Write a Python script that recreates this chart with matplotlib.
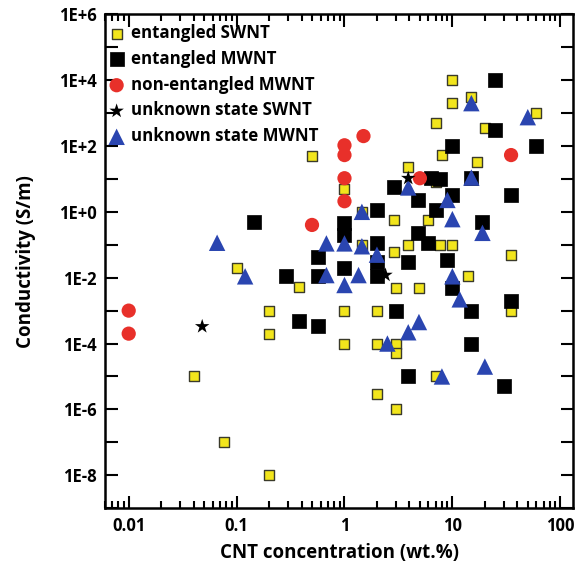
import numpy as np
import matplotlib
matplotlib.use("Agg")
import matplotlib.pyplot as plt
from matplotlib.ticker import FixedLocator, LogLocator, NullFormatter, FuncFormatter

# entangled SWNT (yellow squares)
swnt_ent_x = [0.04, 0.077, 0.2, 0.1, 0.2, 0.2, 0.38, 0.5, 1, 1, 1, 1.45, 1.45, 2, 2, 2,
              2.9, 2.9, 3, 3, 3, 3, 3.9, 3.9, 4.9, 5.9, 7, 7, 7, 7.6, 8, 10, 10, 10,
              14, 15, 17, 20, 35, 35, 60]
swnt_ent_y = [1e-5, 1e-7, 1e-8, 0.02, 1e-3, 2e-4, 0.0054, 50, 5, 1e-3, 1e-4, 1, 0.1, 1e-3, 1e-4, 3e-6,
              0.57, 0.06, 0.005, 1e-4, 5e-5, 1e-6, 23, 0.1, 0.005, 0.57, 500, 8, 1e-5, 0.1, 53, 1e4, 2e3, 0.1,
              0.011, 3e3, 33, 350, 0.05, 0.001, 1000]

# entangled MWNT (black squares)
mwnt_ent_x = [0.145, 0.29, 0.38, 0.57, 0.57, 0.57, 1, 1, 1, 2, 2, 2, 2, 2.9, 3, 3.9, 3.9,
              4.8, 4.8, 5.9, 6.4, 7, 7.6, 9, 10, 10, 10, 15, 15, 15, 19, 25, 25, 30, 35, 35, 60]
mwnt_ent_y = [0.5, 0.011, 5e-4, 0.043, 0.011, 3.3e-4, 0.46, 0.2, 0.02, 1.15, 0.11, 0.03, 0.011, 5.5, 1e-3, 0.03, 1e-5,
              2.3, 0.23, 0.11, 11, 1.15, 10, 0.035, 100, 3.3, 0.005, 11, 1e-3, 1e-4, 0.5, 1e4, 300, 5e-6, 3.3, 0.002, 100]

# non-entangled MWNT (red circles)
mwnt_nonent_x = [0.01, 0.01, 0.5, 1, 1, 1, 1, 1.5, 5, 35]
mwnt_nonent_y = [1e-3, 2e-4, 0.4, 105, 53, 10.5, 2.1, 200, 10.5, 53]

# unknown state SWNT (stars)
swnt_unk_x = [0.048, 2.4, 3.9]
swnt_unk_y = [3.3e-4, 0.012, 10.5]

# unknown state MWNT (blue triangles)
mwnt_unk_x = [0.066, 0.12, 0.68, 0.68, 1, 1, 1.35, 1.45, 1.45, 2, 2.5, 3.9, 3.9, 4.9, 8, 9,
              10, 10, 11.7, 15, 15, 19, 20, 50]
mwnt_unk_y = [0.115, 0.011, 0.11, 0.012, 0.11, 0.006, 0.012, 1, 0.09, 0.05, 1e-4, 5.5, 2.2e-4, 4.5e-4, 1e-5, 2.3,
              0.6, 0.011, 0.0022, 11, 2e3, 0.23, 2e-5, 750]


def main():
    plt.rcParams['font.family'] = ['Open Sans', 'DejaVu Sans']
    plt.rcParams['font.weight'] = 'bold'

    fig = plt.figure(figsize=(5.82, 5.71), dpi=100)
    ax = fig.add_axes([0.180, 0.110, 0.805, 0.865])

    ax.scatter(swnt_ent_x, swnt_ent_y, marker='s', s=62, facecolor='#f2e51c',
               edgecolor='#3a3a2a', linewidth=1.0, label='entangled SWNT', zorder=3)
    ax.scatter(mwnt_ent_x, mwnt_ent_y, marker='s', s=88, facecolor='black',
               edgecolor='black', linewidth=0.5, label='entangled MWNT', zorder=3)
    ax.scatter(mwnt_nonent_x, mwnt_nonent_y, marker='o', s=105, facecolor='#e8302a',
               edgecolor='none', label='non-entangled MWNT', zorder=3)
    ax.scatter(swnt_unk_x, swnt_unk_y, marker='*', s=120, facecolor='black',
               edgecolor='none', label='unknown state SWNT', zorder=4)
    ax.scatter(mwnt_unk_x, mwnt_unk_y, marker='^', s=140, facecolor='#2a45b0',
               edgecolor='none', label='unknown state MWNT', zorder=3)

    ax.set_xscale('log')
    ax.set_yscale('log')
    ax.set_xlim(0.006, 132)
    ax.set_ylim(1e-9, 1e6)

    ax.xaxis.set_major_locator(FixedLocator([0.01, 0.1, 1, 10, 100]))
    ax.xaxis.set_minor_locator(LogLocator(base=10, subs=np.arange(2, 10), numticks=20))
    ax.xaxis.set_minor_formatter(NullFormatter())
    ax.xaxis.set_major_formatter(FuncFormatter(lambda v, p: '%g' % v))

    ax.yaxis.set_major_locator(FixedLocator([10.0 ** k for k in range(-8, 7, 2)]))
    ax.yaxis.set_minor_locator(FixedLocator([10.0 ** k for k in range(-9, 7, 2)]))
    ax.yaxis.set_minor_formatter(NullFormatter())
    ax.yaxis.set_major_formatter(FuncFormatter(lambda v, p: '1E%+d' % int(round(np.log10(v)))))

    ax.tick_params(which='both', direction='in', top=True, right=True, width=1.5,
                   labelsize=12, pad=6)
    ax.tick_params(which='major', length=9)
    ax.tick_params(which='minor', length=5)
    ax.tick_params(axis='y', which='minor', length=9)
    for sp in ax.spines.values():
        sp.set_linewidth(1.8)

    ax.set_xlabel('CNT concentration (wt.%)', fontsize=13.5, fontweight='bold', labelpad=6)
    ax.set_ylabel('Conductivity (S/m)', fontsize=13.5, fontweight='bold', labelpad=16)

    ax.legend(loc='upper left', bbox_to_anchor=(0.0, 0.987), frameon=False,
              handletextpad=0.36, borderpad=0.0, borderaxespad=0.2,
              labelspacing=0.46, handlelength=1.0,
              prop={'weight': 'bold', 'size': 12.2})

    fig.savefig('out.png', dpi=100)


if __name__ == "__main__":
    main()
